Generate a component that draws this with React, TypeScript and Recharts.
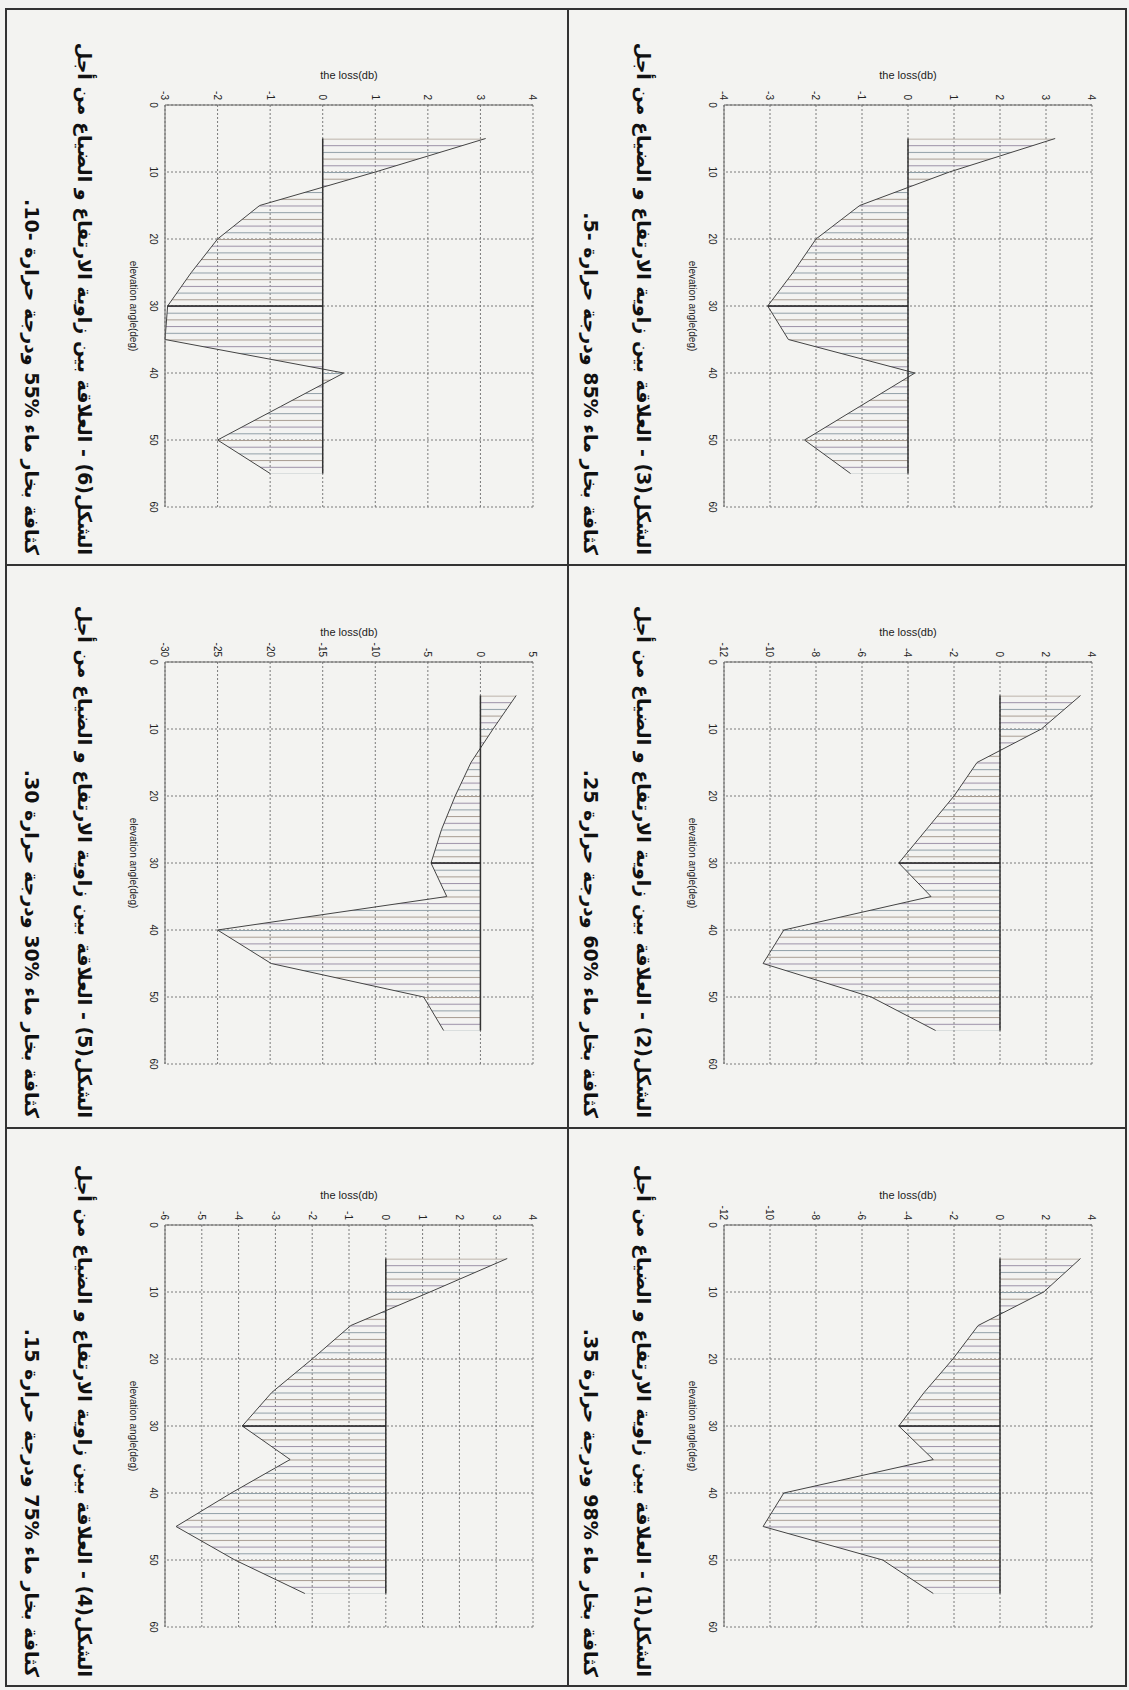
import { ComposedChart, Area, XAxis, YAxis, CartesianGrid, ReferenceLine } from 'recharts';

// elevation angles (deg) where the loss was computed
const elevation = [5, 10, 15, 20, 25, 30, 35, 40, 45, 50, 55];
const elevationTicks = [0, 10, 20, 30, 40, 50, 60];

// loss (dB) for each figure
const loss1 = [3.5, 1.9, -0.95, -2.05, -3.3, -4.4, -2.9, -9.4, -10.3, -5.1, -2.9];
const loss2 = [3.5, 1.8, -1.0, -2.0, -3.2, -4.4, -3.0, -9.4, -10.3, -5.6, -2.8];
const loss3 = [3.2, 0.9, -1.05, -2.0, -2.5, -3.05, -2.6, 0.15, -1.05, -2.25, -1.25];
const loss4 = [3.3, 1.2, -0.95, -2.0, -3.1, -3.9, -2.6, -4.2, -5.7, -4.1, -2.2];
const loss5 = [3.4, 1.2, -0.9, -2.4, -3.7, -4.7, -3.2, -25.0, -19.9, -5.4, -3.5];
const loss6 = [3.1, 1.0, -1.2, -2.0, -2.5, -2.95, -3.0, 0.4, -0.8, -2.0, -1.0];

const ticks1 = [-12, -10, -8, -6, -4, -2, 0, 2, 4];
const ticks2 = [-12, -10, -8, -6, -4, -2, 0, 2, 4];
const ticks3 = [-4, -3, -2, -1, 0, 1, 2, 3, 4];
const ticks4 = [-6, -5, -4, -3, -2, -1, 0, 1, 2, 3, 4];
const ticks5 = [-30, -25, -20, -15, -10, -5, 0, 5];
const ticks6 = [-3, -2, -1, 0, 1, 2, 3, 4];

const title = 'العلاقة بين زاوية الارتفاع و الضياع من أجل';
const caption1 = ['الشكل(1) - ' + title, 'كثافة بخار ماء %98 ودرجة حرارة 35.'];
const caption2 = ['الشكل(2) - ' + title, 'كثافة بخار ماء %60 ودرجة حرارة 25.'];
const caption3 = ['الشكل(3) - ' + title, 'كثافة بخار ماء %85 ودرجة حرارة -5.'];
const caption4 = ['الشكل(4) - ' + title, 'كثافة بخار ماء %75 ودرجة حرارة 15.'];
const caption5 = ['الشكل(5) - ' + title, 'كثافة بخار ماء %30 ودرجة حرارة 30.'];
const caption6 = ['الشكل(6) - ' + title, 'كثافة بخار ماء %55 ودرجة حرارة -10.'];

// page is laid out landscape, then turned 90deg like the scan
const PAGE_W = 1690;
const PAGE_H = 1129;
const colX = [8, 565, 1128, 1687];
const rowY = [2, 561, 1124];

const AXIS_W = 97;
const PLOT_W = 402;
const PLOT_TOP = 35;
const PLOT_H = 368;
const CHART_H = 450;

const font = '"Liberation Sans", Arial, sans-serif';

type ChartProps = {
  id: string;
  values: number[];
  ticks: number[];
  caption: string[];
  width: number;
};

function LossChart({ id, values, ticks, caption, width }: ChartProps) {
  const data = elevation.map((e, i) => ({ elevation: e, loss: values[i] }));
  const step = PLOT_W / 60;
  const at30 = values[elevation.indexOf(30)];
  const first = elevation[0];
  const last = elevation[elevation.length - 1];

  return (
    <div style={{ position: 'relative', width, height: '100%' }}>
      <ComposedChart
        width={width}
        height={CHART_H}
        data={data}
        margin={{ top: PLOT_TOP, right: width - AXIS_W - PLOT_W, bottom: 0, left: 0 }}
      >
        <defs>
          <pattern
            id={`hatch-${id}`}
            patternUnits="userSpaceOnUse"
            x={AXIS_W}
            y={0}
            width={step * 3}
            height={20}
          >
            <line x1={0.5} x2={0.5} y1={0} y2={20} stroke="#9a8fa6" strokeWidth={1} />
            <line x1={step + 0.5} x2={step + 0.5} y1={0} y2={20} stroke="#8f9ea6" strokeWidth={1} />
            <line x1={step * 2 + 0.5} x2={step * 2 + 0.5} y1={0} y2={20} stroke="#a69a8f" strokeWidth={1} />
          </pattern>
        </defs>
        <CartesianGrid strokeDasharray="2 2" stroke="#7a7a7a" />
        <XAxis
          dataKey="elevation"
          type="number"
          domain={[0, 60]}
          ticks={elevationTicks}
          height={CHART_H - PLOT_TOP - PLOT_H}
          axisLine={{ stroke: '#666' }}
          tickLine={false}
          tick={{ fontSize: 10, fill: '#222', fontFamily: font }}
        />
        <YAxis
          type="number"
          domain={[ticks[0], ticks[ticks.length - 1]]}
          ticks={ticks}
          width={AXIS_W}
          axisLine={{ stroke: '#666' }}
          tickLine={false}
          tickSize={3}
          tick={{ fontSize: 10, fill: '#222', fontFamily: font }}
        />
        <Area
          type="linear"
          dataKey="loss"
          baseValue={0}
          fill={`url(#hatch-${id})`}
          fillOpacity={1}
          stroke="#444"
          strokeWidth={1}
          isAnimationActive={false}
        />
        <ReferenceLine segment={[{ x: first, y: 0 }, { x: last, y: 0 }]} stroke="#333" strokeWidth={1.5} />
        <ReferenceLine segment={[{ x: 30, y: 0 }, { x: 30, y: at30 }]} stroke="#222" strokeWidth={1.5} />
        <text
          x={68}
          y={PLOT_TOP + PLOT_H / 2}
          transform={`rotate(-90 68 ${PLOT_TOP + PLOT_H / 2})`}
          textAnchor="middle"
          dominantBaseline="middle"
          fontSize={11}
          fontFamily={font}
          fill="#222"
        >
          the loss(db)
        </text>
        <text
          x={AXIS_W + PLOT_W / 2}
          y={435}
          textAnchor="middle"
          dominantBaseline="middle"
          fontSize={10}
          fontFamily={font}
          fill="#222"
        >
          elevation angle(deg)
        </text>
      </ComposedChart>
      <div
        dir="rtl"
        style={{
          position: 'absolute',
          top: CHART_H + 7,
          right: 10,
          left: 4,
          textAlign: 'right',
          fontFamily: '"DejaVu Sans", sans-serif',
          fontWeight: 'bold',
          fontSize: 19,
          lineHeight: '53px',
          color: '#111',
          whiteSpace: 'nowrap',
        }}
      >
        <div>{caption[0]}</div>
        <div>{caption[1]}</div>
      </div>
    </div>
  );
}

const cells = [
  { id: '3', col: 0, row: 0, values: loss3, ticks: ticks3, caption: caption3 },
  { id: '2', col: 1, row: 0, values: loss2, ticks: ticks2, caption: caption2 },
  { id: '1', col: 2, row: 0, values: loss1, ticks: ticks1, caption: caption1 },
  { id: '6', col: 0, row: 1, values: loss6, ticks: ticks6, caption: caption6 },
  { id: '5', col: 1, row: 1, values: loss5, ticks: ticks5, caption: caption5 },
  { id: '4', col: 2, row: 1, values: loss4, ticks: ticks4, caption: caption4 },
];

export default function App() {
  return (
    <div style={{ position: 'absolute', left: 0, top: 0, width: PAGE_H, height: PAGE_W, overflow: 'hidden', background: '#f3f3f1' }}>
      <div
        style={{
          position: 'absolute',
          left: 0,
          top: 0,
          width: PAGE_W,
          height: PAGE_H,
          transformOrigin: '0 0',
          transform: `translate(${PAGE_H}px, 0) rotate(90deg)`,
        }}
      >
        {cells.map((c) => (
          <div
            key={c.id}
            style={{
              position: 'absolute',
              left: colX[c.col],
              top: rowY[c.row],
              width: colX[c.col + 1] - colX[c.col],
              height: rowY[c.row + 1] - rowY[c.row],
            }}
          >
            <LossChart
              id={c.id}
              values={c.values}
              ticks={c.ticks}
              caption={c.caption}
              width={colX[c.col + 1] - colX[c.col]}
            />
          </div>
        ))}
        {/* frame and dividers */}
        <div
          style={{
            position: 'absolute',
            left: colX[0],
            top: rowY[0],
            width: colX[3] - colX[0],
            height: rowY[2] - rowY[0],
            border: '2px solid #333',
            boxSizing: 'border-box',
          }}
        />
        <div style={{ position: 'absolute', left: colX[1] - 1, top: rowY[0], width: 2, height: rowY[2] - rowY[0], background: '#333' }} />
        <div style={{ position: 'absolute', left: colX[2] - 1, top: rowY[0], width: 2, height: rowY[2] - rowY[0], background: '#333' }} />
        <div style={{ position: 'absolute', left: colX[0], top: rowY[1] - 1, width: colX[3] - colX[0], height: 2, background: '#333' }} />
      </div>
    </div>
  );
}
